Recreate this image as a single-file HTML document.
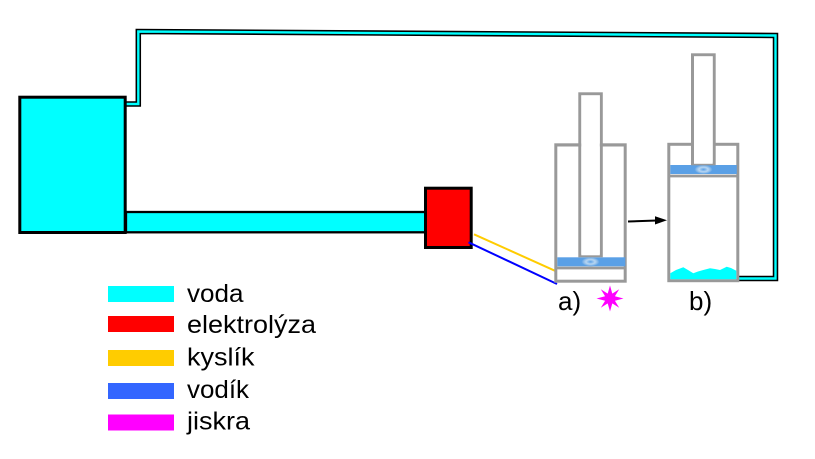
<!DOCTYPE html>
<html><head><meta charset="utf-8"><style>
html,body{margin:0;padding:0;background:#fff;}
svg{display:block;}
text{font-family:"Liberation Sans",Arial,sans-serif;fill:#000;}
</style></head><body>
<svg width="815" height="459" viewBox="0 0 815 459" xmlns="http://www.w3.org/2000/svg">
<defs>
<radialGradient id="hl" cx="0.5" cy="0.5" r="0.5">
<stop offset="0" stop-color="#5aa0e6"/>
<stop offset="0.5" stop-color="#b8d6f2"/>
<stop offset="0.75" stop-color="#8fbdea"/>
<stop offset="1" stop-color="#5aa0e6"/>
</radialGradient>
</defs>
<!-- return pipe -->
<polyline points="126,104 138.3,104 138.3,31.5 775.5,35.5 775.5,278.5 738,278.5" fill="none" stroke="#000" stroke-width="5.5" stroke-linejoin="miter"/>
<polyline points="126,104 138.3,104 138.3,31.5 775.5,35.5 775.5,278.5 738,278.5" fill="none" stroke="#00ffff" stroke-width="2.4" stroke-linejoin="miter"/>
<!-- main pipe -->
<rect x="126" y="212" width="300" height="20.3" fill="#00ffff" stroke="#000" stroke-width="2.3"/>
<!-- big tank -->
<rect x="19.8" y="97.2" width="105.4" height="135.3" fill="#00ffff" stroke="#000" stroke-width="3"/>
<!-- electrolysis -->
<rect x="425.5" y="188.2" width="45.7" height="59.3" fill="#ff0000" stroke="#000" stroke-width="3"/>
<!-- gas lines -->
<line x1="474" y1="234.3" x2="557" y2="271.7" stroke="#ffcc00" stroke-width="2"/>
<line x1="468.5" y1="242.3" x2="557" y2="284" stroke="#0000ff" stroke-width="2"/>
<!-- cylinder a -->
<rect x="555.8" y="144.8" width="69.4" height="136.4" fill="#fff" stroke="#999" stroke-width="3"/>
<rect x="557.3" y="257.3" width="68" height="9" fill="#5aa0e6"/>
<ellipse cx="590.5" cy="261.8" rx="9" ry="4.5" fill="url(#hl)"/>
<line x1="555.8" y1="268" x2="625.2" y2="268" stroke="#999" stroke-width="2.7"/>
<rect x="579.8" y="93.8" width="21.5" height="162" fill="#fff" stroke="#999" stroke-width="3"/>
<line x1="555.8" y1="145" x2="625.2" y2="145" stroke="#999" stroke-width="3"/>
<rect x="581.3" y="95.3" width="18.5" height="160" fill="#fff"/>
<!-- cylinder b -->
<rect x="668.8" y="144.3" width="69" height="136.4" fill="#fff" stroke="#999" stroke-width="3"/>
<rect x="670.3" y="165" width="66.5" height="9" fill="#5aa0e6"/>
<ellipse cx="703.5" cy="169.5" rx="9" ry="4.5" fill="url(#hl)"/>
<line x1="668.8" y1="176" x2="737.8" y2="176" stroke="#999" stroke-width="2.7"/>
<rect x="692.5" y="54.8" width="21.7" height="109" fill="#fff" stroke="#999" stroke-width="3"/>
<rect x="694" y="56.3" width="18.7" height="107.5" fill="#fff"/>
<path d="M670.3,273.3 L676,270 L683.3,267.3 L688,270 L693.3,273.3 L698,271.5 L703.3,270 L710,268.3 L715,269 L720,270 L726.7,266.7 L731,268 L736.3,270.7 L736.3,279.2 L670.3,279.2 Z" fill="#00ffff"/>
<!-- arrow -->
<line x1="628" y1="221.5" x2="657" y2="220.5" stroke="#000" stroke-width="2"/>
<polygon points="655,216.3 667,220.3 655,224.5" fill="#000"/>
<!-- spark -->
<polygon fill="#ff00ff" points="610,285.5 612.3,293.6 619.2,289.3 614.9,296.2 623.5,298.5 614.9,300.8 619.2,307.7 612.3,303.4 610,311.5 607.7,303.4 600.8,307.7 605.1,300.8 596.5,298.5 605.1,296.2 600.8,289.3 607.7,293.6"/>
<circle cx="610" cy="298.5" r="5.5" fill="#ff00ff"/>
<!-- labels -->
<text x="558" y="310" font-size="26">a)</text>
<text x="689" y="310" font-size="26">b)</text>
<!-- legend -->
<rect x="108" y="286" width="66" height="16" fill="#00ffff"/>
<rect x="108" y="316" width="66" height="16" fill="#ff0000"/>
<rect x="108" y="350" width="66" height="16" fill="#ffcc00"/>
<rect x="108" y="383" width="66" height="16" fill="#3366ff"/>
<rect x="108" y="414.5" width="66" height="16" fill="#ff00ff"/>
<text x="187" y="302" font-size="25" textLength="56.5" lengthAdjust="spacingAndGlyphs">voda</text>
<text x="187" y="333" font-size="25" textLength="129" lengthAdjust="spacingAndGlyphs">elektrolýza</text>
<text x="187" y="365.5" font-size="25" textLength="67.5" lengthAdjust="spacingAndGlyphs">kyslík</text>
<text x="187" y="398" font-size="25" textLength="62" lengthAdjust="spacingAndGlyphs">vodík</text>
<text x="187" y="429.5" font-size="25" textLength="63" lengthAdjust="spacingAndGlyphs">jiskra</text>
</svg>
</body></html>
